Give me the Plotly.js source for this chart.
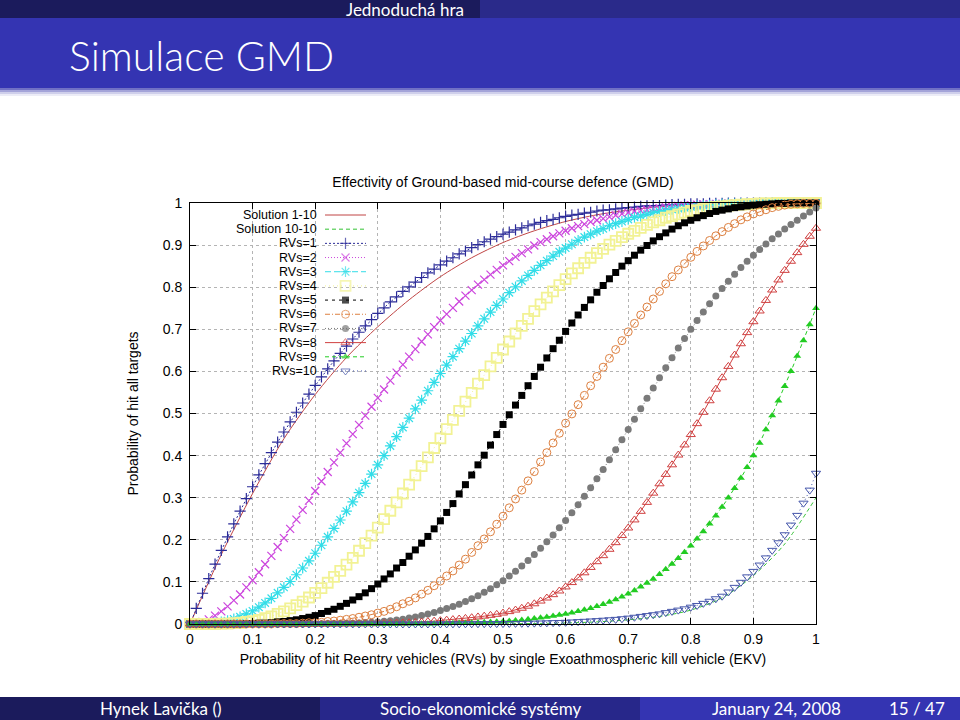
<!DOCTYPE html>
<html><head><meta charset="utf-8">
<script src="https://cdn.plot.ly/plotly-3.0.1.min.js"></script>
<style>html,body{margin:0;padding:0;background:#fff}#chart{width:960px;height:720px}</style>
</head><body><div id="chart"></div>
<script>
// ---------------- data ----------------
const xs = [0,0.01,0.02,0.03,0.04,0.05,0.06,0.07,0.08,0.09,0.1,0.11,0.12,0.13,0.14,0.15,0.16,0.17,0.18,0.19,0.2,0.21,0.22,0.23,0.24,0.25,0.26,0.27,0.28,0.29,0.3,0.31,0.32,0.33,0.34,0.35,0.36,0.37,0.38,0.39,0.4,0.41,0.42,0.43,0.44,0.45,0.46,0.47,0.48,0.49,0.5,0.51,0.52,0.53,0.54,0.55,0.56,0.57,0.58,0.59,0.6,0.61,0.62,0.63,0.64,0.65,0.66,0.67,0.68,0.69,0.7,0.71,0.72,0.73,0.74,0.75,0.76,0.77,0.78,0.79,0.8,0.81,0.82,0.83,0.84,0.85,0.86,0.87,0.88,0.89,0.9,0.91,0.92,0.93,0.94,0.95,0.96,0.97,0.98,0.99,1];

const rvs1 = [0,.037,.073,.108,.142,.175,.207,.238,.268,.298,
.326,.354,.381,.407,.432,.456,.480,.503,.525,.546,
.567,.587,.606,.625,.643,.660,.677,.693,.708,.723,
.738,.751,.765,.777,.790,.801,.812,.823,.834,.843,
.853,.862,.870,.879,.886,.894,.901,.908,.914,.920,
.926,.931,.936,.941,.946,.950,.954,.958,.961,.965,
.968,.971,.973,.976,.978,.981,.983,.984,.986,.988,
.989,.990,.992,.993,.994,.994,.995,.996,.997,.997,
.998,.998,.998,.999,.999,.999,1,1,1,1,
1,1,1,1,1,1,1,1,1,1,1];

const rvs2 = [0,.001,.005,.011,.020,.030,.042,.056,.070,.087,
.104,.123,.142,.162,.183,.204,.226,.248,.271,.293,
.316,.339,.361,.384,.407,.429,.451,.473,.495,.516,
.537,.557,.578,.597,.616,.635,.653,.671,.688,.705,
.721,.736,.751,.766,.780,.793,.806,.818,.830,.841,
.852,.862,.872,.881,.890,.899,.907,.914,.921,.928,
.934,.940,.945,.950,.955,.959,.963,.967,.971,.974,
.977,.980,.982,.984,.986,.988,.990,.991,.993,.994,
.995,.996,.997,.997,.998,.998,.999,.999,.999,.999,
1,1,1,1,1,1,1,1,1,1,1];

const rvs3 = [0,0,0,.001,.003,.005,.008,.012,.017,.024,
.031,.040,.050,.061,.074,.087,.101,.117,.133,.150,
.168,.187,.207,.227,.247,.268,.290,.312,.334,.356,
.378,.400,.423,.445,.467,.489,.511,.532,.554,.574,
.595,.615,.635,.654,.672,.690,.708,.725,.741,.757,
.772,.787,.801,.815,.828,.840,.852,.863,.874,.884,
.893,.902,.911,.919,.926,.933,.939,.946,.951,.956,
.961,.966,.969,.973,.977,.980,.982,.985,.987,.989,
.991,.993,.994,.995,.996,.997,.998,.998,.999,.999,
.999,.999,1,1,1,1,1,1,1,1,1];

const rvs4 = [0,0,0,0,0,.001,.001,.002,.003,.005,
.007,.010,.014,.018,.024,.030,.037,.045,.053,.063,
.074,.085,.098,.112,.126,.141,.157,.174,.192,.210,
.229,.249,.269,.289,.310,.331,.353,.375,.396,.418,
.441,.463,.485,.506,.528,.549,.571,.591,.612,.632,
.652,.671,.690,.708,.725,.743,.759,.775,.790,.805,
.819,.833,.845,.858,.870,.881,.891,.901,.910,.919,
.927,.934,.941,.948,.954,.959,.965,.969,.973,.977,
.981,.983,.986,.989,.991,.992,.994,.995,.996,.997,
.998,.999,.999,.999,1,1,1,1,1,1,1];

const rvs5 = [0,0,0,0,0,0,0,0,0,.001,
.001,.002,.002,.003,.005,.006,.008,.010,.013,.016,
.020,.025,.030,.035,.042,.049,.057,.065,.074,.084,
.095,.107,.119,.133,.146,.161,.176,.192,.208,.226,
.245,.265,.286,.309,.331,.354,.378,.401,.425,.450,
.474,.497,.520,.543,.566,.588,.610,.632,.654,.674,
.695,.715,.734,.752,.770,.788,.804,.820,.835,.850,
.863,.876,.888,.899,.910,.920,.929,.938,.946,.953,
.959,.965,.970,.975,.980,.983,.986,.989,.991,.993,
.995,.996,.997,.998,.999,.999,1,1,1,1,1];

const rvs6 = [0,0,0,0,0,0,0,0,0,0,
0,0,0,0,.001,.001,.001,.001,.002,.003,
.003,.004,.006,.007,.009,.011,.013,.016,.019,.022,
.026,.030,.035,.041,.048,.054,.062,.071,.080,.091,
.102,.114,.126,.140,.154,.170,.186,.202,.219,.237,
.256,.276,.297,.318,.340,.362,.385,.407,.430,.453,
.477,.499,.521,.543,.566,.588,.610,.631,.652,.673,
.694,.714,.734,.753,.772,.790,.808,.825,.841,.856,
.871,.885,.898,.911,.922,.932,.942,.951,.960,.967,
.974,.979,.984,.989,.992,.995,.997,.998,.999,.999,.999];

const rvs7 = [0,0,0,0,0,0,0,0,0,0,
0,0,0,0,0,0,0,0,0,0,
.0005,.0007,.0009,.0011,.0013,.0015,.002,.0025,.0032,.004,
.005,.0063,.0078,.0095,.0115,.014,.0169,.0201,.0237,.0276,
.032,.0367,.0418,.0472,.0533,.060,.0673,.0752,.0837,.093,
.103,.1139,.1255,.1379,.1511,.165,.1797,.1952,.2114,.2284,
.246,.2644,.2834,.3032,.3238,.345,.3672,.3902,.4139,.4379,
.462,.4863,.5112,.5361,.5608,.585,.6088,.6324,.6557,.6783,
.700,.7208,.741,.7604,.779,.797,.8142,.8307,.8465,.8616,
.876,.8897,.9026,.9149,.9266,.938,.9489,.9593,.9693,.9788,.988];

const rvs8 = [0,0,0,0,0,0,0,0,0,0,
0,0,0,0,0,0,0,0,0,0,
.0001,.0001,.0002,.0002,.0003,.0004,.0005,.0006,.0007,.0008,
.001,.0014,.0018,.0022,.0026,.003,.0038,.0047,.0057,.0068,
.008,.0092,.0105,.0118,.0133,.015,.0168,.0186,.0206,.023,
.026,.0294,.0331,.0374,.0423,.048,.0545,.0617,.0697,.0784,
.088,.0984,.1096,.1216,.1344,.148,.1623,.1774,.1932,.2101,
.228,.2472,.2676,.2889,.3108,.333,.3554,.3781,.4013,.4253,
.45,.4759,.5028,.5303,.5578,.585,.6119,.6389,.6657,.6921,
.718,.7435,.7686,.7933,.8172,.84,.8616,.8821,.9018,.921,.94];

const rvs9 = [0,0,0,0,0,0,0,0,0,0,
0,0,0,0,0,0,0,0,0,0,
0,0,0,0,0,0,0,0,0,0,
.0001,.0001,.0002,.0002,.0003,.0003,.0004,.0005,.0006,.0008,
.001,.0014,.0018,.0022,.0026,.003,.0035,.0041,.0047,.0053,
.006,.0071,.0083,.0097,.0113,.013,.0148,.0168,.0189,.0213,
.024,.027,.0301,.0336,.0375,.042,.047,.0524,.0583,.0648,
.072,.0798,.0882,.0973,.1071,.118,.1298,.1425,.156,.1705,
.186,.2024,.2196,.2379,.2573,.278,.2998,.3226,.3467,.3724,
.40,.4299,.4619,.4955,.53,.565,.6004,.6366,.6736,.7114,.75];

const rvs10 = [0,0,0,0,0,0,0,0,0,0,
0,0,0,0,0,0,0,0,0,0,
0,0,0,0,0,0,0,0,0,0,
0,0,0,0,0,0,0,0,0,0,
.0002,.0002,.0003,.0003,.0004,.0005,.0006,.0007,.0008,.0009,
.001,.0012,.0014,.0016,.0018,.002,.0024,.0028,.0032,.0036,
.004,.0048,.0056,.0064,.0072,.008,.009,.010,.011,.0125,
.014,.016,.018,.020,.022,.024,.027,.030,.033,.036,
.040,.044,.049,.054,.060,.066,.076,.087,.099,.112,
.125,.140,.157,.175,.193,.212,.235,.258,.287,.318,.358];

const solX = [0,0.05,0.1,0.15,0.2,0.25,0.3,0.35,0.4,0.45,0.5,0.55,0.6,0.65,0.7,0.75,0.8,0.85,0.9,0.95,1];
const sol1 = [0,.165,.31,.44,.545,.633,.706,.77,.825,.87,.906,.934,.956,.972,.983,.991,.996,.998,.9995,1,1];
const sol10 = [0,0,0,0,0,0,0,0,0,0,.0005,.0012,.0025,.005,.01,.018,.033,.062,.115,.19,.30];

const seriesNames = ['Solution 1-10','Solution 10-10','RVs=1','RVs=2','RVs=3','RVs=4','RVs=5','RVs=6','RVs=7','RVs=8','RVs=9','RVs=10'];
const tickVals = [0,0.1,0.2,0.3,0.4,0.5,0.6,0.7,0.8,0.9,1];
const tickText = ['0','0.1','0.2','0.3','0.4','0.5','0.6','0.7','0.8','0.9','1'];

const chartTitle = 'Effectivity of Ground-based mid-course defence (GMD)';
const xTitle = 'Probability of hit Reentry vehicles (RVs) by single Exoathmospheric kill vehicle (EKV)';
const yTitle = 'Probability of hit all targets';
const slideSection = 'Jednoduchá hra';
const slideTitle = 'Simulace GMD';
const footAuthor = 'Hynek Lavička ()';
const footTitle = 'Socio-ekonomické systémy';
const footDate = 'January 24, 2008';
const footPage = '15 / 47';

// ---------------- styles / layout helpers ----------------
const W = 960, H = 720;
const M = {l: 190, r: 144, t: 203, b: 96};
const PW = W - M.l - M.r, PH = H - M.t - M.b;
const px = x => (x - M.l) / PW;
const py = y => (H - M.b - y) / PH;
const FONT = 'Liberation Sans, Arial, Helvetica, sans-serif';
const SFONT = 'Lato, Open Sans, sans-serif';

const styles = [
  {color: '#c04545', dash: 'solid'},
  {color: '#33c233', dash: '4px,3px'},
  {color: '#2b2b98', dash: '2px,2px', symbol: 'cross-thin-open', size: 8, lw: 1.2},
  {color: '#cc44dd', dash: '1px,2px', symbol: 'x-thin-open', size: 8, lw: 1.2},
  {color: '#33dde8', dash: '6px,3px', symbol: 'asterisk-open', size: 9, lw: 1.2},
  {color: '#f2f294', dash: '1px,3px', symbol: 'square-open', size: 10, lw: 1.8},
  {color: '#000000', dash: '3px,4px', symbol: 'square', size: 7, lw: 0},
  {color: '#dd8040', dash: '5px,2px,1px,2px', symbol: 'circle-open', size: 8, lw: 1},
  {color: '#7a7a7a', dash: '1px,2px', symbol: 'circle', size: 7, lw: 0},
  {color: '#d04040', dash: 'solid', symbol: 'triangle-up-open', size: 8, lw: 1},
  {color: '#22cc22', dash: '4px,3px', symbol: 'triangle-up', size: 7, lw: 0},
  {color: '#4455aa', dash: '1px,3px', symbol: 'triangle-down-open', size: 8, lw: 1}
];

const rvSeries = [rvs1, rvs2, rvs3, rvs4, rvs5, rvs6, rvs7, rvs8, rvs9, rvs10];

const traces = [];
traces.push({x: solX, y: sol1, mode: 'lines', name: seriesNames[0], line: {color: styles[0].color, width: 1, shape: 'spline', smoothing: 0.8}, cliponaxis: true, hoverinfo: 'skip'});
traces.push({x: solX, y: sol10, mode: 'lines', name: seriesNames[1], line: {color: styles[1].color, width: 1, dash: styles[1].dash, shape: 'spline', smoothing: 0.8}, cliponaxis: true, hoverinfo: 'skip'});
rvSeries.forEach((ys, i) => {
  const s = styles[i + 2];
  traces.push({
    x: xs, y: ys, mode: 'lines+markers', name: seriesNames[i + 2],
    line: {color: s.color, width: 1, dash: s.dash},
    marker: {symbol: s.symbol, size: s.size, color: s.color, line: {color: s.color, width: s.lw}},
    cliponaxis: false, hoverinfo: 'skip'
  });
});

// legend key (gnuplot style: text right-aligned, sample to the right)
const LEG_TEXT_X = 318, LEG_S0 = 325, LEG_S1 = 366, LEG_Y0 = 215, LEG_DY = 14.18;
const shapes = [];
const annotations = [];
const keyX = [], keyY = [], keySym = [], keyCol = [], keySize = [], keyLw = [];
seriesNames.forEach((nm, i) => {
  const yy = py(LEG_Y0 + i * LEG_DY);
  annotations.push({x: px(LEG_TEXT_X), y: yy, xref: 'paper', yref: 'paper', xanchor: 'right', yanchor: 'middle',
    text: nm, showarrow: false, borderpad: 0, font: {family: FONT, size: 12.5, color: '#000'}});
  shapes.push({type: 'line', xref: 'paper', yref: 'paper', x0: px(LEG_S0), x1: px(LEG_S1), y0: yy, y1: yy,
    line: {color: styles[i].color, width: 1, dash: styles[i].dash}, layer: 'above'});
  if (styles[i].symbol) {
    keyX.push(px((LEG_S0 + LEG_S1) / 2)); keyY.push(yy);
    keySym.push(styles[i].symbol); keyCol.push(styles[i].color); keySize.push(styles[i].size); keyLw.push(styles[i].lw);
  }
});
traces.push({x: keyX, y: keyY, mode: 'markers', showlegend: false, hoverinfo: 'skip', cliponaxis: false,
  marker: {symbol: keySym, color: keyCol, size: keySize, line: {color: keyCol, width: keyLw}}});

// slide chrome (beamer-like frame)
function rect(x0, y0, x1, y1, c) {
  shapes.push({type: 'rect', xref: 'paper', yref: 'paper', x0: px(x0), x1: px(x1), y0: py(y1), y1: py(y0),
    fillcolor: c, line: {width: 0}, layer: 'above'});
}
rect(0, 0, 480, 18, '#1b1b5c');
rect(480, 0, 960, 18, '#2a2a8a');
rect(0, 18, 960, 88, '#3434b2');
rect(0, 88, 960, 90, '#7070c4');
rect(0, 90, 960, 92, '#a4a4d9');
rect(0, 92, 960, 94, '#cfcfeb');
rect(0, 94, 960, 96, '#ececf7');
rect(0, 697, 320, 720, '#1b1b5c');
rect(320, 697, 640, 720, '#27278a');
rect(640, 697, 960, 720, '#3434b2');

function txt(t, x, y, size, anchor, weight) {
  annotations.push({x: px(x), y: py(y), xref: 'paper', yref: 'paper', xanchor: anchor, yanchor: 'middle',
    text: t, showarrow: false, borderpad: 0, font: {family: SFONT, size: size, color: '#ffffff', weight: weight || 400}});
}
txt(slideSection, 465, 9, 17, 'right');
txt(slideTitle, 68, 56, 41, 'left', 300);
txt(footAuthor, 160, 708, 17, 'center');
txt(footTitle, 480, 708, 17, 'center');
txt(footDate, 776, 708, 17, 'center');
txt(footPage, 917, 708, 17, 'center');

const axisCommon = {
  range: [0, 1], tickvals: tickVals, ticktext: tickText,
  ticks: 'inside', ticklen: 6, tickcolor: '#000', tickwidth: 1,
  showline: true, linecolor: '#000', linewidth: 1, mirror: 'ticks',
  showgrid: true, gridcolor: '#b4b4b4', griddash: 'dot', gridwidth: 1,
  zeroline: false, automargin: false, fixedrange: true,
  tickfont: {family: FONT, size: 14, color: '#000'}
};

const layout = {
  width: W, height: H, autosize: false,
  margin: {l: M.l, r: M.r, t: M.t, b: M.b, pad: 0},
  paper_bgcolor: '#ffffff', plot_bgcolor: '#ffffff',
  showlegend: false,
  title: {text: chartTitle, font: {family: FONT, size: 14, color: '#000'},
    x: 0.5, xref: 'paper', xanchor: 'center', y: 1 - 182 / H, yref: 'container', yanchor: 'middle'},
  xaxis: Object.assign({}, axisCommon, {title: {text: xTitle, font: {family: FONT, size: 14, color: '#000'}, standoff: 8}, ticklabelstandoff: 2}),
  yaxis: Object.assign({}, axisCommon, {title: {text: yTitle, font: {family: FONT, size: 14, color: '#000'}, standoff: 20}, ticklabelstandoff: 4}),
  shapes: shapes,
  annotations: annotations
};

Plotly.newPlot('chart', traces, layout, {displayModeBar: false, staticPlot: true});
</script>
</body></html>
